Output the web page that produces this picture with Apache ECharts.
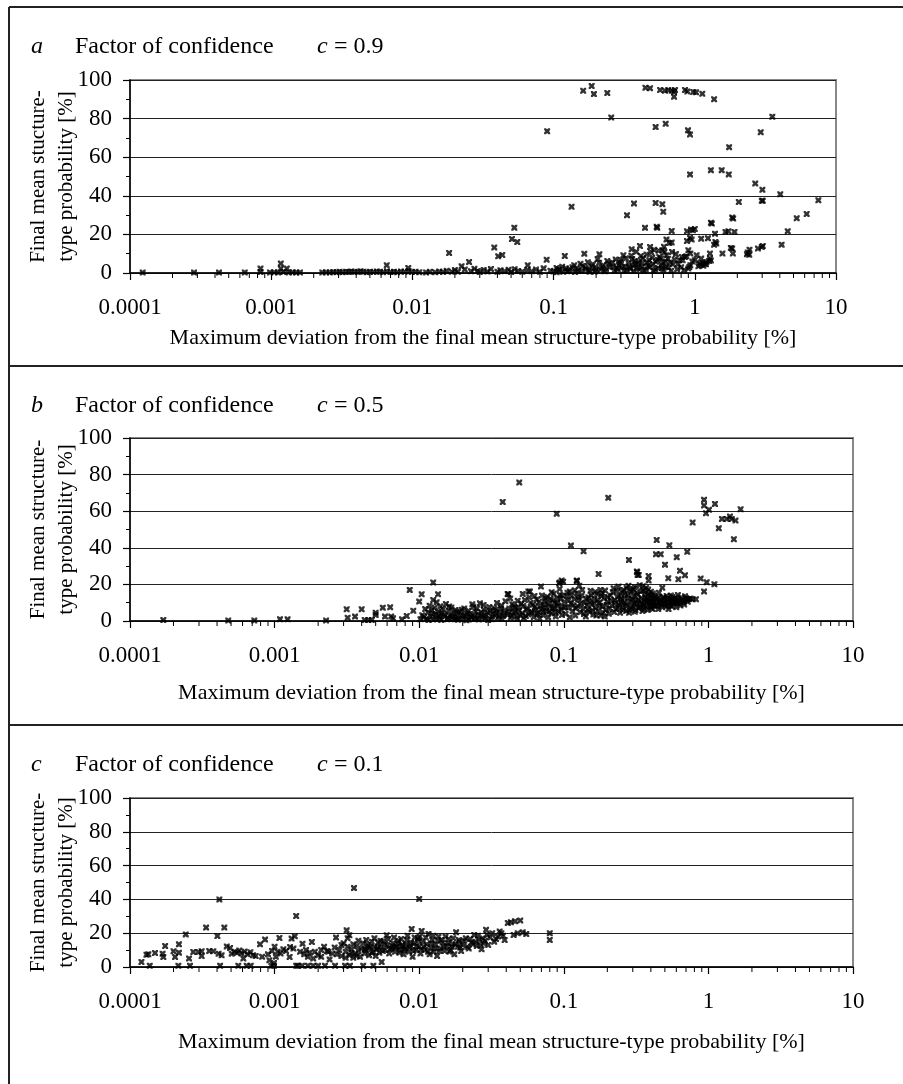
<!DOCTYPE html>
<html>
<head>
<meta charset="utf-8">
<script src="https://cdn.jsdelivr.net/npm/echarts@6/dist/echarts.min.js"></script>
<style>
html,body{margin:0;padding:0;background:#fff;}
#chart{width:903px;height:1084px;}
</style>
</head>
<body>
<div id="chart"></div>
<script>
// ---- tick labels / axis ticks ----
const xTickValues = [0.0001, 0.001, 0.01, 0.1, 1, 10];
const xMinorTicks = [0.0002,0.0003,0.0004,0.0005,0.0006,0.0007,0.0008,0.0009,
  0.002,0.003,0.004,0.005,0.006,0.007,0.008,0.009,
  0.02,0.03,0.04,0.05,0.06,0.07,0.08,0.09,
  0.2,0.3,0.4,0.5,0.6,0.7,0.8,0.9,
  2,3,4,5,6,7,8,9];
const yTickValues = [0, 20, 40, 60, 80, 100];

const panelTitles = ['a', 'b', 'c'];
const confidence = ['0.9', '0.5', '0.1'];
const yNames = ['Final mean stucture-\ntype probability [%]', 'Final mean structure-\ntype probability [%]', 'Final mean structure-\ntype probability [%]'];
const xName = 'Maximum deviation from the final mean structure-type probability [%]';

// ---- panel a (c = 0.9): [max deviation %, final mean probability %] ----
const panelA = [
[1.23e-4,0.2],[2.84e-4,0.2],[4.27e-4,0.2],[6.5e-4,0.3],[8.4e-4,0.5],[8.4e-4,2.3],[9.8e-4,0.3],[1.05e-3,0.4],[1.12e-3,0.2],[1.17e-3,4.9],[1.17e-3,2.3],[1.22e-3,0.5],[1.29e-3,2.3],[1.33e-3,0.3],[1.42e-3,0.4],[1.5e-3,0.3],[1.6e-3,0.3],
[2.3e-3,0.3],[2.45e-3,0.4],[2.6e-3,0.3],[2.75e-3,0.5],[2.9e-3,0.4],[3.05e-3,0.6],[3.2e-3,0.4],[3.4e-3,0.7],[3.55e-3,0.5],[3.7e-3,0.8],[3.9e-3,0.6],[4.1e-3,0.5],[4.3e-3,0.9],[4.5e-3,0.6],[4.75e-3,0.4],[5.0e-3,0.7],[5.3e-3,0.5],[5.6e-3,0.8],[5.9e-3,0.6],[6.2e-3,0.4],[6.58e-3,4.0],[6.6e-3,0.9],[7.0e-3,0.5],[7.4e-3,0.7],[7.8e-3,0.4],[8.3e-3,0.8],[8.8e-3,0.6],[9.35e-3,2.6],[9.4e-3,1.0],[9.9e-3,0.5],[0.0105,0.7],[0.0112,0.4],[0.0125,0.3],[0.0133,0.6],
[0.0145,0.4],[0.0155,0.8],[0.0165,0.5],[0.0175,1.2],[0.0182,10.4],[0.019,0.6],[0.02,1.5],[0.021,0.7],[0.0223,3.5],[0.0235,1.8],[0.0252,5.7],[0.026,0.9],[0.0275,2.2],[0.029,1.0],[0.03,0.5],[0.032,1.6],[0.034,0.8],[0.036,2.1],[0.038,13.2],[0.0405,8.7],[0.0433,9.3],[0.0507,17.6],[0.0527,23.5],[0.0553,16.1],[0.04,0.6],[0.042,1.4],[0.045,0.9],[0.048,1.7],[0.05,0.5],[0.053,2.0],[0.056,1.1],[0.06,0.7],[0.0656,4.0],[0.065,1.5],[0.07,0.9],[0.075,1.8],[0.08,0.6],[0.0893,6.9],[0.085,2.4],[0.09,73.5],[0.095,1.2],[0.1,0.8],[0.105,2.6],[0.11,1.5],[0.12,8.8],[0.115,3.2],[0.125,0.9],[0.134,34.3],[0.13,2.1],[0.14,4.0],[0.15,1.3],
[0.162,94.4],[0.165,10.0],[0.16,3.6],[0.17,2.0],[0.18,0.7],[0.186,96.9],[0.193,92.7],[0.19,4.5],[0.2,1.6],[0.211,9.7],[0.21,5.3],[0.22,2.8],[0.23,0.9],[0.24,93.3],[0.24,6.2],[0.25,3.0],[0.256,80.6],[0.26,5.5],[0.27,1.2],[0.28,2.5],[0.29,4.2],[0.3,6.8],[0.312,9.2],[0.32,3.5],[0.331,29.9],[0.33,1.4],[0.34,5.0],[0.35,2.2],[0.357,12.3],[0.36,7.2],[0.371,36.0],[0.37,1.0],[0.38,4.6],[0.39,2.5],[0.409,14.0],[0.4,6.0],[0.42,3.1],[0.444,23.4],[0.43,7.5],[0.447,96.0],[0.45,1.8],[0.46,5.4],[0.482,95.7],[0.482,13.5],[0.48,3.0],[0.5,8.0],[0.51,1.2],
[0.528,75.6],[0.528,36.3],[0.537,23.9],[0.542,23.4],[0.53,5.8],[0.55,2.6],[0.568,94.8],[0.56,8.3],[0.58,4.0],[0.589,35.6],[0.598,31.7],[0.59,11.8],[0.6,1.5],[0.615,94.4],[0.61,10.9],[0.622,77.3],[0.62,6.0],[0.63,17.3],[0.63,9.2],[0.649,94.8],[0.65,2.8],[0.66,15.6],[0.686,94.4],[0.686,21.8],[0.686,15.8],[0.69,10.9],[0.7,4.5],[0.713,93.9],[0.724,94.8],[0.713,91.3],[0.72,7.0],[0.75,2.0],[0.78,6.6],[0.81,8.3],[0.82,6.6],[0.853,94.8],[0.85,8.3],[0.87,8.7],[0.88,21.6],[0.88,16.6],[0.886,94.1],[0.895,73.9],[0.9,11.8],[0.915,3.1],[0.9,2.3],[0.925,71.8],[0.925,51.1],[0.925,18.2],[0.93,10.1],[0.93,4.0],[0.94,22.5],[0.95,17.3],[0.97,22.2],[0.976,93.8],
[1.0,22.8],[1.0,6.6],[1.02,93.6],[1.03,9.2],[1.06,3.5],[1.11,17.8],[1.11,7.5],[1.13,92.9],[1.1,4.2],[1.15,3.8],[1.2,4.5],[1.21,5.7],[1.24,18.0],[1.28,10.1],[1.28,7.5],[1.3,53.3],[1.3,26.0],[1.32,25.6],[1.3,6.5],[1.37,90.0],[1.37,14.7],[1.39,20.4],[1.40,16.1],[1.42,15.3],[1.57,10.1],[1.55,53.3],[1.65,21.3],[1.73,21.6],[1.74,51.1],[1.75,65.2],[1.80,13.0],[1.84,28.7],[1.84,12.7],[1.86,10.1],[1.87,28.2],[1.91,21.3],[2.05,36.8],[2.34,9.7],[2.37,10.6],[2.43,9.5],[2.44,12.1],[2.68,46.4],[2.80,12.7],[2.93,72.9],[2.98,13.5],[2.98,37.4],[3.01,43.1],[3.03,37.4],[3.03,14.0],[3.54,81.0],[4.03,40.8],[4.12,14.7],[4.55,21.6],[5.27,28.4],[6.20,30.6],[7.50,37.7],
[0.105,0.4],[0.108,1.9],[0.117,0.6],[0.122,2.4],[0.128,1.1],[0.136,3.0],[0.142,0.5],[0.146,2.2],[0.155,4.8],[0.158,1.0],[0.168,2.9],[0.175,5.6],[0.178,1.4],[0.185,3.4],[0.195,0.6],[0.198,2.6],[0.205,7.2],[0.215,1.8],[0.225,4.0],[0.235,2.0],[0.245,4.8],[0.265,3.4],[0.275,7.0],[0.285,1.8],[0.295,5.6],[0.305,3.0],[0.315,1.0],[0.325,7.6],[0.345,2.8],[0.355,9.0],[0.365,3.8],[0.375,6.2],[0.385,11.0],[0.395,4.8],[0.405,2.0],[0.415,8.8],[0.425,5.2],[0.435,1.2],[0.455,9.6],[0.465,3.8],[0.475,6.6],[0.49,10.8],[0.505,4.6],[0.515,12.0],[0.525,2.0],[0.545,6.8],[0.555,11.5],[0.575,7.6],[0.585,2.4],[0.595,5.4],[0.605,13.6],[0.625,3.2],[0.645,7.4],[0.67,5.5],[0.68,1.2],[0.735,9.8],[0.76,4.6],[0.8,3.0],[0.84,1.5],[0.96,6.0],[1.08,5.0],[1.14,5.2],[1.18,4.8],[1.26,6.2]
];

// ---- panel b (c = 0.5) ----
const panelB = [
[1.7e-4,0.5],[4.78e-4,0.3],[7.24e-4,0.3],[1.09e-3,1.0],[1.23e-3,0.9],[2.27e-3,0.3],
[3.15e-3,6.4],[3.2e-3,1.8],[3.6e-3,2.4],[4.0e-3,6.4],[4.2e-3,0.5],[4.45e-3,0.5],[4.7e-3,0.6],[5.0e-3,4.5],[5.0e-3,3.3],[5.6e-3,7.3],[6.3e-3,7.5],[5.8e-3,2.4],[6.4e-3,2.4],[6.6e-3,1.5],[7.6e-3,0.9],[8.2e-3,2.7],[8.6e-3,17.0],[9.1e-3,5.6],[0.01,10.6],[0.0104,14.6],[0.0125,21.0],[0.0125,11.5],[0.0135,14.6],
[0.0105,3.2],[0.011,6.5],[0.0112,1.2],[0.0115,4.8],[0.0118,8.4],[0.012,2.5],[0.0122,5.9],[0.0125,0.8],[0.0128,7.2],[0.013,3.6],[0.0132,10.2],[0.0135,5.1],[0.0138,1.9],[0.014,8.0],[0.0143,4.2],[0.0146,6.6],[0.015,2.8],[0.0153,9.3],[0.0156,0.9],[0.016,5.5],[0.0163,3.0],[0.0167,7.4],[0.017,1.6],[0.0174,4.4],[0.0178,6.0],[0.018,2.1],[0.0185,0.7],[0.019,5.2],[0.0195,3.3],[0.02,1.2],[0.0205,6.8],[0.021,2.6],[0.0215,4.1],[0.022,0.8],[0.0225,3.8],[0.023,1.9],[0.0237,7.8],[0.024,2.7],[0.0245,5.0],[0.025,1.1],[0.0255,3.5],[0.0263,9.7],[0.027,4.6],[0.0275,2.0],[0.028,6.2],[0.029,3.1],[0.03,0.6],[0.031,5.4],[0.032,2.4],[0.033,7.0],[0.034,3.9],[0.035,1.5],[0.036,4.8],[0.037,8.5],[0.038,2.8],[0.0378,65.0],[0.039,5.9],[0.0409,14.8],[0.041,3.4],[0.0413,14.6],[0.042,6.8],[0.043,1.8],[0.044,9.2],[0.045,4.5],[0.046,7.3],[0.047,2.5],[0.048,11.0],[0.0492,75.7],[0.049,5.6],[0.05,3.0],[0.052,14.8],[0.0525,8.2],[0.053,1.5],[0.055,6.1],[0.0569,16.1],[0.0583,16.1],[0.057,3.6],[0.059,9.8],[0.06,5.0],[0.062,2.2],[0.063,7.6],[0.065,11.8],[0.066,4.3],[0.068,1.4],[0.0695,18.8],[0.07,6.5],[0.072,3.2],[0.073,9.0],[0.075,12.5],[0.076,5.4],[0.078,2.0],[0.08,8.0],[0.0824,15.7],[0.082,4.1],[0.084,11.2],[0.086,6.9],[0.088,2.5],[0.0893,58.6],[0.09,9.5],[0.092,5.3],[0.094,14.2],[0.094,21.0],[0.0927,20.6],[0.0966,22.1],[0.095,12.0],[0.097,3.3],[0.099,21.5],[0.098,7.8],
[0.101,10.5],[0.103,4.0],[0.105,13.5],[0.107,7.2],[0.11,16.1],[0.11,2.0],[0.112,41.2],[0.112,9.5],[0.115,5.5],[0.118,12.0],[0.12,3.0],[0.123,21.9],[0.123,15.2],[0.123,22.1],[0.125,8.0],[0.128,19.3],[0.128,11.5],[0.13,4.8],[0.133,14.0],[0.136,6.5],[0.137,38.1],[0.14,10.0],[0.142,2.5],[0.145,8.5],[0.148,13.0],[0.15,5.0],[0.153,16.5],[0.156,9.0],[0.16,3.5],[0.163,12.0],[0.166,7.0],[0.17,14.8],[0.174,25.7],[0.173,5.5],[0.176,10.0],[0.179,17.0],[0.18,3.0],[0.184,15.2],[0.185,8.0],[0.19,12.5],[0.192,2.4],[0.195,6.0],[0.2,10.5],[0.203,67.3],[0.205,4.0],[0.21,14.0],[0.215,8.5],[0.221,17.9],[0.225,11.5],[0.23,6.5],[0.235,13.0],[0.239,18.8],[0.24,9.0],[0.245,4.5],[0.25,12.0],[0.255,7.5],[0.259,17.0],[0.26,10.0],[0.265,15.0],[0.27,5.5],[0.275,8.5],[0.28,19.2],[0.282,33.4],[0.28,12.5],[0.285,6.0],[0.29,10.5],[0.295,16.0],[0.3,8.0],[0.305,13.5],[0.31,18.5],[0.31,5.0],[0.315,11.0],[0.32,27.0],[0.322,26.6],[0.32,9.0],[0.324,25.2],[0.325,14.5],[0.33,25.2],[0.33,7.0],[0.335,19.5],[0.34,10.0],[0.345,12.5],[0.35,5.5],[0.355,16.5],[0.36,8.5],[0.365,13.0],[0.37,18.0],[0.375,10.5],[0.38,6.0],[0.385,14.5],[0.386,24.6],[0.386,22.1],[0.39,11.0],[0.395,8.0],[0.4,16.0],[0.405,12.5],[0.41,6.5],[0.415,10.0],[0.42,14.0],[0.43,8.5],[0.434,36.5],[0.439,44.3],[0.44,12.0],[0.45,6.5],[0.455,15.5],[0.46,9.5],[0.468,36.5],[0.47,11.5],[0.48,18.2],[0.48,7.5],[0.49,13.0],[0.501,30.8],[0.5,10.0],[0.51,8.0],[0.52,12.0],[0.528,23.4],[0.53,6.5],[0.537,41.4],[0.54,10.5],[0.55,14.0],[0.56,8.0],[0.57,11.0],[0.58,9.5],[0.6,7.5],[0.604,34.9],[0.61,12.0],[0.62,22.8],[0.62,10.0],[0.636,27.5],[0.64,8.5],[0.66,11.5],[0.68,9.0],[0.689,25.0],[0.7,12.5],[0.714,37.8],[0.72,10.5],[0.778,53.8],[0.778,11.9],[0.82,11.9],[0.884,23.2],[0.933,66.2],[0.933,63.1],[0.933,16.1],[0.962,58.9],[0.973,21.2],[1.01,60.8],[1.10,20.1],[1.11,64.0],[1.18,50.7],[1.24,55.8],[1.34,55.8],[1.41,57.1],[1.45,55.8],[1.50,44.7],[1.54,54.9],[1.67,61.1],
[0.0102,1.0],[0.0108,2.2],[0.0116,0.5],[0.0124,3.9],[0.0131,1.3],[0.0137,2.9],[0.0142,0.6],[0.0149,3.7],[0.0158,1.8],[0.0161,7.9],[0.0169,2.4],[0.0176,0.9],[0.0183,4.6],[0.0188,1.4],[0.0197,6.2],[0.0203,2.9],[0.0212,0.4],[0.0219,5.6],[0.0228,2.2],[0.0233,9.1],[0.0242,1.3],[0.0251,6.9],[0.0258,0.8],[0.0268,3.0],[0.0279,8.8],[0.0286,1.6],[0.0297,4.7],[0.0305,7.6],[0.0316,1.0],[0.0325,3.8],[0.0338,6.0],[0.0345,9.9],[0.0356,2.8],[0.0367,6.9],[0.0374,1.1],[0.0386,4.0],[0.0395,10.8],[0.0418,5.0],[0.0426,12.3],[0.0436,2.9],[0.0452,8.0],[0.0463,5.1],[0.0478,1.2],[0.0486,7.5],[0.0508,9.6],[0.0515,4.2],[0.0538,11.5],[0.0546,2.7],[0.0562,7.0],[0.0578,12.8],[0.0596,4.6],[0.0612,8.9],[0.0627,13.6],[0.0642,6.3],[0.0656,3.5],[0.0672,10.4],[0.0688,7.9],[0.0706,14.0],[0.0718,4.9],[0.0735,10.9],[0.0746,7.4],[0.0768,13.2],[0.0786,9.6],[0.0795,5.2],[0.0812,12.0],[0.0838,7.0],[0.0852,14.9],[0.0868,9.9],[0.0876,4.6],[0.0902,12.4],[0.0915,8.5],[0.0936,17.5],[0.0958,6.0],[0.0978,13.9],
[0.102,7.5],[0.106,15.5],[0.108,11.3],[0.113,13.9],[0.116,8.6],[0.119,16.8],[0.121,6.9],[0.126,12.9],[0.131,9.2],[0.134,17.0],[0.138,3.8],[0.143,12.2],[0.147,6.2],[0.151,10.8],[0.155,14.1],[0.158,5.9],[0.162,9.7],[0.165,15.9],[0.168,3.0],[0.172,11.4],[0.178,8.3],[0.182,13.6],[0.187,4.6],[0.193,16.6],[0.198,8.9],[0.202,13.1],[0.207,6.6],[0.212,11.0],[0.218,15.7],[0.223,4.9],[0.228,9.9],[0.233,16.4],[0.237,7.2],[0.242,13.7],[0.248,10.4],[0.252,15.8],[0.257,6.1],[0.262,12.7],[0.268,9.3],[0.272,18.0],[0.278,14.2],[0.283,4.5],[0.288,16.8],[0.293,7.1],[0.298,11.9],[0.303,17.5],[0.308,9.6],[0.313,6.0],[0.318,15.3],[0.328,11.7],[0.338,7.6],[0.342,16.2],[0.348,9.3],[0.352,19.0],[0.358,6.5],[0.362,11.2],[0.368,15.1],[0.373,8.0],[0.378,12.1],[0.383,17.2],[0.393,9.6],[0.398,13.8],[0.403,7.2],[0.408,10.9],[0.413,15.0],[0.418,8.8],[0.425,12.3],[0.435,10.0],[0.445,8.2],[0.452,13.1],[0.465,10.8],[0.475,8.9],[0.485,12.6],[0.495,9.2],[0.505,11.8],[0.515,13.6],[0.525,9.0],[0.535,12.2],[0.545,8.6],[0.555,11.3],[0.565,13.1],[0.575,10.3],[0.59,12.5],[0.605,9.8],[0.615,14.2],[0.63,11.0],[0.65,12.8],[0.67,10.2],[0.69,13.5],[0.71,11.6],[0.73,12.0],[0.75,12.3]
];

// ---- panel c (c = 0.1) ----
const panelC = [
[1.2e-4,3.0],[1.3e-4,7.3],[1.34e-4,7.5],[1.37e-4,0.8],[1.49e-4,8.3],[1.68e-4,7.9],[1.75e-4,12.4],[1.7e-4,5.9],[2.0e-4,9.3],[2.05e-4,5.9],[2.18e-4,13.4],[2.18e-4,8.5],[2.16e-4,0.8],[2.43e-4,19.3],[2.56e-4,5.0],[2.6e-4,0.8],[2.74e-4,8.9],[2.97e-4,8.9],[3.13e-4,9.3],[3.13e-4,6.5],[3.36e-4,23.3],[3.53e-4,9.5],[3.77e-4,9.3],[4.02e-4,18.3],[4.15e-4,39.9],[4.1e-4,7.9],[4.3e-4,6.9],[4.2e-4,0.8],[4.49e-4,23.3],[4.67e-4,12.2],[4.92e-4,11.2],[5.05e-4,7.9],[5.3e-4,9.0],[5.5e-4,8.5],[5.7e-4,9.8],[5.9e-4,8.0],[6.2e-4,9.2],[6.5e-4,7.5],[6.8e-4,8.8],[7.1e-4,7.0],[5.61e-4,0.8],[6.08e-4,5.0],[6.41e-4,0.8],[6.84e-4,0.8],[7.4e-4,6.5],[7.93e-4,13.4],[8.59e-4,16.2],[8.2e-4,6.0],[9.0e-4,7.5],[9.5e-4,0.8],[9.9e-4,2.4],[9.9e-4,0.8],[9.2e-4,4.0],[9.6e-4,9.5],[1.0e-3,12.0],[1.02e-3,6.0],[1.05e-3,9.0],[1.08e-3,17.2],[1.1e-3,8.0],[1.15e-3,10.5],[1.2e-3,9.5],[1.28e-3,11.8],[1.35e-3,10.9],[1.27e-3,5.9],[1.41e-3,30.2],[1.31e-3,16.8],[1.38e-3,18.2],[1.41e-3,0.8],[1.45e-3,0.8],[1.56e-3,13.8],[1.81e-3,14.8],[1.5e-3,9.0],[1.6e-3,7.5],[1.65e-3,10.0],[1.7e-3,6.0],[1.75e-3,8.5],[1.85e-3,5.0],[1.9e-3,9.0],[2.0e-3,7.0],[2.1e-3,10.0],[1.55e-3,0.8],[1.7e-3,0.8],[1.85e-3,0.8],[2.0e-3,0.8],[2.23e-3,0.8],[2.62e-3,0.8],[3.07e-3,0.8],[3.32e-3,0.8],[4.1e-3,0.8],[4.82e-3,0.8],
[2.2e-3,12.0],[2.35e-3,9.0],[2.5e-3,8.0],[2.66e-3,17.4],[3.15e-3,21.7],[3.29e-3,18.8],[3.54e-3,46.7],[2.8e-3,10.0],[2.9e-3,6.5],[3.0e-3,14.0],[3.1e-3,9.0],[3.2e-3,12.0],[3.3e-3,7.0],[3.4e-3,10.5],[3.5e-3,5.5],[3.6e-3,8.0],[3.7e-3,12.5],[3.8e-3,9.5],[3.9e-3,6.0],[4.0e-3,11.0],[4.1e-3,14.0],[4.2e-3,8.0],[4.3e-3,10.0],[4.4e-3,13.0],[4.5e-3,7.0],[4.6e-3,11.5],[4.7e-3,15.0],[4.8e-3,9.0],[4.9e-3,12.0],[5.0e-3,6.5],[5.1e-3,10.5],[5.2e-3,14.5],[5.3e-3,8.5],[5.4e-3,12.0],[5.5e-3,3.0],[5.65e-3,15.2],[5.96e-3,18.8],[5.8e-3,10.0],[6.0e-3,13.0],[6.2e-3,8.0],[6.4e-3,11.0],[6.6e-3,14.0],[6.8e-3,9.0],[7.0e-3,12.0],[7.2e-3,15.5],[7.4e-3,10.0],[7.6e-3,13.0],[7.8e-3,7.5],[8.0e-3,11.0],[8.2e-3,16.0],[8.5e-3,9.0],[8.87e-3,22.5],[8.7e-3,12.5],[9.0e-3,6.0],[9.2e-3,14.0],[9.5e-3,10.0],[9.8e-3,17.0],
[0.01,40.2],[0.0104,21.3],[0.0116,19.6],[0.01,12.0],[0.0102,8.0],[0.0106,15.0],[0.011,10.0],[0.0113,13.5],[0.0118,7.5],[0.012,11.5],[0.0123,16.0],[0.0126,9.0],[0.013,13.0],[0.0133,6.5],[0.0136,18.0],[0.014,11.0],[0.0145,14.5],[0.015,9.5],[0.0155,12.5],[0.016,16.5],[0.0165,10.0],[0.017,13.5],[0.0175,7.5],[0.018,20.5],[0.0185,12.0],[0.019,15.0],[0.0195,9.5],[0.02,13.0],[0.021,17.0],[0.022,11.0],[0.023,14.5],[0.024,19.0],[0.025,12.5],[0.026,16.0],[0.027,10.5],[0.028,14.0],[0.029,22.0],[0.03,13.0],[0.031,17.5],[0.033,15.0],[0.035,18.0],[0.037,20.0],[0.039,16.0],[0.041,26.0],[0.043,26.5],[0.046,27.0],[0.05,27.5],[0.045,19.0],[0.048,20.0],[0.052,20.5],[0.055,19.5],[0.08,20.0],[0.08,16.0],
[0.0021,6.0],[0.0023,9.5],[0.0024,4.5],[0.0026,11.5],[0.0027,7.5],[0.0029,13.0],[0.0031,5.5],[0.0032,17.0],[0.0034,8.5],[0.0035,13.5],[0.0037,6.5],[0.0038,15.5],[0.0042,10.5],[0.0043,16.0],[0.0045,12.0],[0.0047,8.5],[0.0049,17.0],[0.0052,11.5],[0.0054,15.5],[0.0056,9.5],[0.0058,13.5],[0.0061,16.5],[0.0063,10.5],[0.0065,12.5],[0.0067,17.5],[0.0069,11.5],[0.0071,14.0],[0.0073,8.5],[0.0075,16.5],[0.0077,12.5],[0.0079,10.0],[0.0081,13.5],[0.0083,18.5],[0.0086,11.5],[0.0088,14.5],[0.0091,9.5],[0.0093,17.5],[0.0096,12.5],[0.0099,15.5],[0.0101,18.0],[0.0103,10.5],[0.0108,12.0],[0.0111,17.5],[0.0115,9.0],[0.0121,14.0],[0.0125,18.5],[0.0128,11.0],[0.0134,15.5],[0.0138,9.5],[0.0142,16.0],[0.0148,12.0],[0.0152,18.0],[0.0158,14.0],[0.0162,9.0],[0.0168,12.0],[0.0172,17.0],[0.0178,13.5],[0.0188,16.0],[0.0192,11.5],[0.0205,15.5],[0.0215,12.0],[0.0225,16.5],[0.0235,13.5],[0.0245,15.0],[0.0255,18.5],[0.0265,13.0],[0.0275,17.0],[0.0285,15.5],[0.0295,19.0],[0.032,20.0],[0.034,16.5],[0.036,21.0],[0.038,18.5]
];

// ---- layout ----
const FONT = 'Liberation Serif';
const grids = [
  {left: 130, top: 80, width: 706, height: 193},
  {left: 130, top: 438, width: 723, height: 183},
  {left: 130, top: 798, width: 723, height: 169}
];
const titleY = [47, 406, 765];
const xNameY = [338, 693, 1042];
const panels = [panelA, panelB, panelC];

const crossPath = 'path://M0,0L3,0L5,2L7,0L10,0L10,3L8,5L10,7L10,10L7,10L5,8L3,10L0,10L0,7L2,5L0,3Z';

const chart = echarts.init(document.getElementById('chart'), null, {renderer: 'canvas'});

const xAxes = grids.map((g, i) => ({
  type: 'log', logBase: 10, min: xTickValues[0], max: xTickValues[xTickValues.length - 1], gridIndex: i,
  axisLine: {show: true, onZero: false, lineStyle: {color: '#000', width: 1.5}},
  axisTick: {show: true, inside: false, length: 7, lineStyle: {color: '#000', width: 1.2}},
  axisLabel: {margin: 23, fontSize: 23, fontFamily: FONT, color: '#000',
    formatter: v => String(+Number(v).toPrecision(1))},
  splitLine: {show: false}, minorTick: {show: false}
}));
const yAxes = grids.map((g, i) => ({
  type: 'value', min: yTickValues[0], max: yTickValues[yTickValues.length - 1], interval: 20, gridIndex: i,
  axisLine: {show: true, onZero: false, lineStyle: {color: '#000', width: 1.5}},
  axisTick: {show: true, inside: false, length: 7, lineStyle: {color: '#000', width: 1.2}},
  minorTick: {show: true, splitNumber: 2, length: 4, lineStyle: {color: '#000', width: 1}},
  axisLabel: {margin: 18, fontSize: 23, fontFamily: FONT, color: '#000'},
  splitLine: {show: true, lineStyle: {color: '#222', width: 1}}
}));

const series = [];
panels.forEach((data, i) => {
  series.push({
    type: 'scatter', xAxisIndex: i, yAxisIndex: i, data: data,
    symbol: crossPath, symbolSize: 6, itemStyle: {color: '#000'}, silent: true
  });
  series.push({
    type: 'custom', xAxisIndex: i, yAxisIndex: i, silent: true, clip: false,
    data: xMinorTicks.map(v => [v, 0]),
    renderItem: (params, api) => {
      const p = api.coord([api.value(0), 0]);
      return {type: 'line', shape: {x1: p[0], y1: p[1], x2: p[0], y2: p[1] + 5},
        style: {stroke: '#000', lineWidth: 1}};
    }
  });
});

const graphic = [];
// frame lines
graphic.push({type: 'line', shape: {x1: 9, y1: 7, x2: 903, y2: 7}, style: {stroke: '#222', lineWidth: 2}});
graphic.push({type: 'line', shape: {x1: 9, y1: 7, x2: 9, y2: 1084}, style: {stroke: '#222', lineWidth: 2}});
graphic.push({type: 'line', shape: {x1: 9, y1: 366, x2: 903, y2: 366}, style: {stroke: '#222', lineWidth: 2}});
graphic.push({type: 'line', shape: {x1: 9, y1: 725, x2: 903, y2: 725}, style: {stroke: '#222', lineWidth: 2}});
grids.forEach((g, i) => {
  graphic.push({type: 'text', x: 31, y: titleY[i], style: {text: panelTitles[i], font: 'italic 24px ' + FONT, fill: '#000', align: 'left', verticalAlign: 'middle'}});
  graphic.push({type: 'text', x: 75, y: titleY[i], style: {text: 'Factor of confidence', font: '24px ' + FONT, fill: '#000', align: 'left', verticalAlign: 'middle'}});
  graphic.push({type: 'text', x: 317, y: titleY[i], style: {text: 'c', font: 'italic 24px ' + FONT, fill: '#000', align: 'left', verticalAlign: 'middle'}});
  graphic.push({type: 'text', x: 328, y: titleY[i], style: {text: ' = ' + confidence[i], font: '24px ' + FONT, fill: '#000', align: 'left', verticalAlign: 'middle'}});
  graphic.push({type: 'text', x: 52, y: g.top + g.height / 2, rotation: Math.PI / 2,
    style: {text: yNames[i], font: '21px ' + FONT, lineHeight: 28, fill: '#000', align: 'center', verticalAlign: 'middle'}});
  graphic.push({type: 'text', x: g.left + g.width / 2, y: xNameY[i],
    style: {text: xName, font: '22px ' + FONT, fill: '#000', align: 'center', verticalAlign: 'middle'}});
});

chart.setOption({
  animation: false,
  backgroundColor: '#fff',
  grid: grids.map(g => Object.assign({show: true, borderColor: '#888', borderWidth: 2, backgroundColor: 'transparent', containLabel: false}, g)),
  xAxis: xAxes,
  yAxis: yAxes,
  series: series,
  graphic: graphic
});
</script>
</body>
</html>
